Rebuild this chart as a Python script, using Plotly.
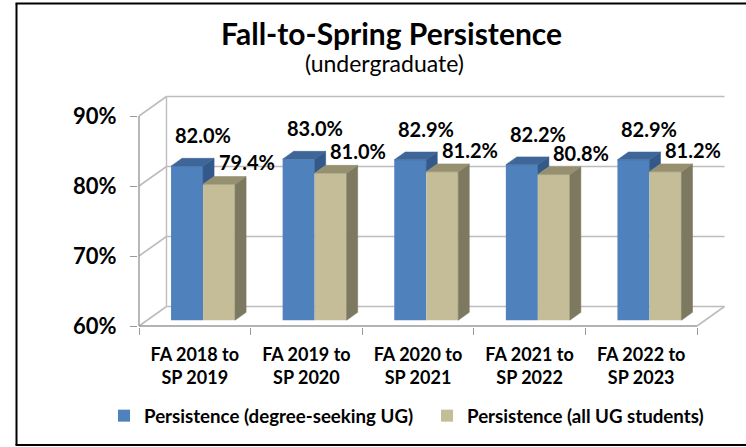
import plotly.graph_objects as go

# ---------------- data ----------------
categories = ["FA 2018 to<br>SP 2019", "FA 2019 to<br>SP 2020", "FA 2020 to<br>SP 2021",
              "FA 2021 to<br>SP 2022", "FA 2022 to<br>SP 2023"]
degree_seeking = [82.0, 83.0, 82.9, 82.2, 82.9]
all_ug = [79.4, 81.0, 81.2, 80.8, 81.2]
series_names = ["Persistence (degree-seeking UG)", "Persistence (all UG students)"]
y_ticks = [60, 70, 80, 90]
y_tick_labels = ["60%", "70%", "80%", "90%"]
title_text = "Fall-to-Spring Persistence"
subtitle_text = "(undergraduate)"

# ---------------- styling / geometry ----------------
W, H = 746, 447
ML, MR, MT, MB = 138, 18, 94, 120
PX_X = 111.6          # px per category
PX_Y = 7.0            # px per percentage point
DEPTH_X = 27.5 / PX_X  # 3-D depth offset (category units)
DEPTH_Y = 19.5 / PX_Y  # 3-D depth offset (value units)
BAR_W = 32 / PX_X
F0, F1 = 0.3, 0.7      # bar front / back depth fractions
BASE = y_ticks[0]

BLUE, BLUE_TOP, BLUE_SIDE = "#4F81BD", "#3E6699", "#33598A"
TAN, TAN_TOP, TAN_SIDE = "#C4BD97", "#969070", "#7D7960"
GRID = "#BDBDBD"
AXIS = "#9A9A9A"
FONT = "Lato"

n = len(categories)
idx = list(range(n))
x_min = -0.5 - 1 / PX_X
x_max = x_min + (W - ML - MR) / PX_X
y_min = BASE - 1 / PX_Y
y_max = y_min + (H - MT - MB) / PX_Y


def pxx(px):
    return (px - ML) / (W - ML - MR)


def pxy(py):
    return (H - MB - py) / (H - MT - MB)


fig = go.Figure()

# front faces (real bars)
fig.add_trace(go.Bar(x=idx, y=[v - BASE for v in degree_seeking], base=BASE + F0 * DEPTH_Y,
                     offset=F0 * DEPTH_X - BAR_W, width=BAR_W, name=series_names[0],
                     marker=dict(color=BLUE, line=dict(width=0)), hoverinfo="skip"))
fig.add_trace(go.Bar(x=idx, y=[v - BASE for v in all_ug], base=BASE + F0 * DEPTH_Y,
                     offset=F0 * DEPTH_X, width=BAR_W, name=series_names[1],
                     marker=dict(color=TAN, line=dict(width=0)), hoverinfo="skip"))

ddx = (F1 - F0) * DEPTH_X
ddy = (F1 - F0) * DEPTH_Y


def face(pts, color):
    xs = [p[0] for p in pts] + [pts[0][0]]
    ys = [p[1] for p in pts] + [pts[0][1]]
    fig.add_trace(go.Scatter(x=xs, y=ys, mode="lines", fill="toself", fillcolor=color,
                             line=dict(color=color, width=0.6), showlegend=False,
                             hoverinfo="skip"))


for i in idx:
    yb = BASE + F0 * DEPTH_Y
    # blue bar
    xl = i + F0 * DEPTH_X - BAR_W
    xr = i + F0 * DEPTH_X
    yt = degree_seeking[i] + F0 * DEPTH_Y
    yt_tan = all_ug[i] + F0 * DEPTH_Y
    ys = max(yt_tan, yb)
    if ys < yt:
        face([(xr, ys), (xr + ddx, ys + ddy), (xr + ddx, yt + ddy), (xr, yt)], BLUE_SIDE)
    face([(xl, yt), (xr, yt), (xr + ddx, yt + ddy), (xl + ddx, yt + ddy)], BLUE_TOP)
    # tan bar
    xl2 = xr
    xr2 = xr + BAR_W
    face([(xr2, yb), (xr2 + ddx, yb + ddy), (xr2 + ddx, yt_tan + ddy), (xr2, yt_tan)], TAN_SIDE)
    face([(xl2, yt_tan), (xr2, yt_tan), (xr2 + ddx, yt_tan + ddy), (xl2 + ddx, yt_tan + ddy)], TAN_TOP)

# walls / gridlines (behind bars)
shapes = []
left, right = -0.5, n - 0.5
for t in y_ticks:
    shapes.append(dict(type="line", xref="x", yref="y", layer="below",
                       x0=left + DEPTH_X, x1=right + DEPTH_X, y0=t + DEPTH_Y, y1=t + DEPTH_Y,
                       line=dict(color=GRID, width=1.6)))
    shapes.append(dict(type="line", xref="x", yref="y", layer="below",
                       x0=left, x1=left + DEPTH_X, y0=t, y1=t + DEPTH_Y,
                       line=dict(color=GRID, width=1.6)))
shapes.append(dict(type="line", xref="x", yref="y", layer="below",
                   x0=left + DEPTH_X, x1=left + DEPTH_X, y0=y_ticks[0] + DEPTH_Y, y1=y_ticks[-1] + DEPTH_Y,
                   line=dict(color=GRID, width=1.4)))
shapes.append(dict(type="line", xref="x", yref="y", layer="below",
                   x0=right, x1=right + DEPTH_X, y0=BASE, y1=BASE + DEPTH_Y,
                   line=dict(color=GRID, width=1.6)))
# front axes
shapes.append(dict(type="line", xref="x", yref="y", layer="below",
                   x0=left, x1=left, y0=y_ticks[0], y1=y_ticks[-1],
                   line=dict(color=AXIS, width=1.4)))
shapes.append(dict(type="line", xref="x", yref="y", layer="below",
                   x0=left, x1=right, y0=BASE, y1=BASE,
                   line=dict(color=AXIS, width=1.4)))
# chart frame (left, top, bottom edges; right edge lies outside the picture)
frame = dict(xref="paper", yref="paper", type="line", line=dict(color="black", width=2))
shapes.append(dict(frame, x0=pxx(16.5), x1=pxx(16.5), y0=pxy(445), y1=pxy(3.5)))
shapes.append(dict(frame, x0=pxx(15.5), x1=pxx(800), y0=pxy(3.5), y1=pxy(3.5)))
shapes.append(dict(frame, x0=pxx(15.5), x1=pxx(800), y0=pxy(445), y1=pxy(445)))

annotations = []
for i in idx:
    annotations.append(dict(x=i + F0 * DEPTH_X - BAR_W / 2, y=degree_seeking[i] + F0 * DEPTH_Y,
                            xref="x", yref="y", text=f"{degree_seeking[i]:.1f}%", showarrow=False,
                            xshift=16, yshift=31, yanchor="middle",
                            font=dict(family=FONT, size=20, color="black", weight="bold")))
    annotations.append(dict(x=i + F0 * DEPTH_X + BAR_W / 2, y=all_ug[i] + F0 * DEPTH_Y,
                            xref="x", yref="y", text=f"{all_ug[i]:.1f}%", showarrow=False,
                            xshift=27.5, yshift=22, yanchor="middle",
                            font=dict(family=FONT, size=20, color="black", weight="bold")))
annotations.append(dict(x=pxx(391), y=pxy(33), xref="paper", yref="paper", text=title_text,
                        showarrow=False, xanchor="center", yanchor="middle",
                        font=dict(family=FONT, size=30, color="black", weight="bold")))
annotations.append(dict(x=pxx(384), y=pxy(63), xref="paper", yref="paper", text=subtitle_text,
                        showarrow=False, xanchor="center", yanchor="middle",
                        font=dict(family=FONT, size=23, color="black")))

fig.update_layout(
    width=W, height=H, margin=dict(l=ML, r=MR, t=MT, b=MB, autoexpand=False),
    paper_bgcolor="white", plot_bgcolor="white", barmode="overlay",
    shapes=shapes, annotations=annotations,
    xaxis=dict(range=[x_min, x_max], tickvals=[k - 0.5 for k in range(n + 1)], ticks="outside",
               ticklen=7, tickcolor=AXIS, tickwidth=1.3, showticklabels=False, showgrid=False,
               zeroline=False, showline=False, fixedrange=True),
    xaxis2=dict(range=[x_min, x_max], overlaying="x", anchor="y", side="bottom", tickvals=idx,
                ticktext=categories, ticks="", showgrid=False, zeroline=False, showline=False,
                ticklabelstandoff=15,
                tickfont=dict(family=FONT, size=18, color="black", weight="bold")),
    yaxis=dict(range=[y_min, y_max], tickvals=y_ticks, ticktext=y_tick_labels, ticks="outside",
               ticklen=7, tickcolor=AXIS, tickwidth=1.3, showgrid=False, zeroline=False,
               showline=False, ticklabelstandoff=9,
               tickfont=dict(family=FONT, size=22, color="black", weight="bold")),
    legend=dict(orientation="h", x=pxx(104), y=pxy(416), xanchor="left", yanchor="middle",
                entrywidth=278, entrywidthmode="pixels",
                font=dict(family=FONT, size=18.7, color="black", weight="bold"),
                bgcolor="rgba(0,0,0,0)", itemclick=False),
    showlegend=True,
)
# make xaxis2 visible with a dummy invisible trace
fig.add_trace(go.Scatter(x=[idx[0]], y=[y_min], xaxis="x2", yaxis="y", mode="markers",
                         marker=dict(opacity=0), showlegend=False, hoverinfo="skip"))

fig.write_html("out.html", config={"displayModeBar": False},
               post_script="document.body.style.margin='0px';document.body.style.overflow='hidden';")
